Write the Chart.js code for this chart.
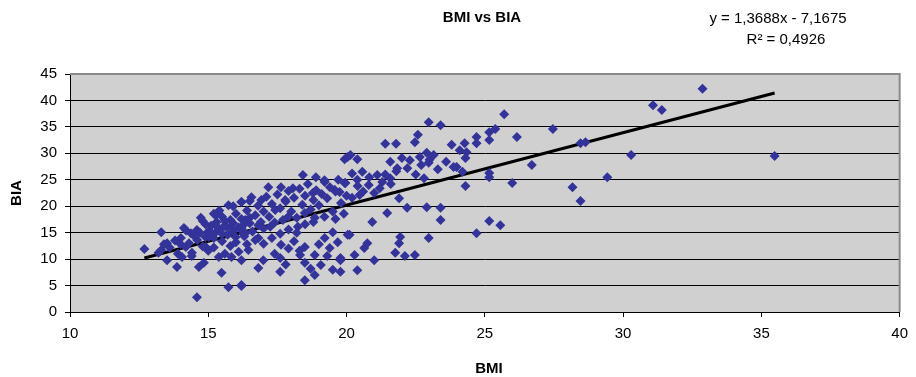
<!DOCTYPE html>
<html>
<head>
<meta charset="utf-8">
<script src="https://cdn.jsdelivr.net/npm/chart.js@4"></script>
<style>
  body { margin: 0; background: #fff; }
  #wrap { width: 916px; height: 377px; }
</style>
</head>
<body>
<div id="wrap"><canvas id="chart" width="916" height="377"></canvas></div>
<script>
        // BMI / BIA pairs
        const bmi = [
            29.43, 30.29, 31.08, 31.4, 32.87, 35.48,
            25.70, 27.46, 26.16, 25.38, 25.16, 25.16, 24.70, 24.70, 24.27, 24.09, 24.34, 24.30, 26.70, 24.19,
            25.16, 25.16, 24.30, 25.99, 28.17, 28.46, 28.46, 28.64, 25.16, 25.56, 24.70, 23.98,
            22.97, 23.40, 21.40, 21.79, 22.47, 22.58, 23.80, 20.14, 20.39, 19.93, 21.58, 22.0, 22.29, 22.65,
            22.90, 23.15, 22.97, 21.83, 23.87, 20.57, 20.82, 21.11, 21.29, 21.58, 20.39, 19.96, 22.80, 19.75,
            20.47, 21.0, 21.9, 22.19, 22.90, 23.40, 23.40, 21.47, 20.93, 20.11, 21.94, 21.90, 22.97, 20.75,
            20.64, 20.29, 21.76, 22.11, 22.47, 21.0, 19.78, 20.39, 19.78,
            20.04, 18.42, 18.89, 19.21, 17.17, 17.63, 18.06, 19.93, 19.57, 18.78, 16.56, 16.92, 17.78, 16.2,
            17.42, 18.49, 17.89, 18.85, 16.34, 16.81, 17.24, 18.24, 16.27, 19.5, 20.04, 16.81, 19.21, 17.63,
            18.49, 19.39, 19.68, 16.45, 18.32, 18.85, 16.99, 17.6, 19.78, 18.49, 19.07, 16.81, 17.6, 18.85,
            18.49, 16.2,
            12.69, 13.30, 13.51, 13.30, 13.51, 13.87, 14.05, 14.19, 14.01, 14.12, 14.37, 14.73, 14.59, 14.41,
            14.66, 14.84, 14.59, 15.02, 14.91, 15.27, 15.38, 15.48, 15.73, 16.2, 15.73, 16.2, 15.27, 15.63,
            15.99, 15.84, 16.2, 16.34,
            15.0, 15.1, 15.2, 15.3, 15.4, 15.5, 15.5, 15.6, 15.7, 15.8, 15.9, 16.0, 16.0, 16.1, 16.2, 16.3,
            16.4, 16.5, 16.6, 16.7, 16.8, 16.9, 17.0, 17.0, 17.1, 17.2, 17.3, 17.4, 17.5, 17.6, 17.7, 17.8,
            17.9, 18.0, 18.1, 18.2, 18.3, 18.4, 18.5, 18.6, 18.7, 18.8, 18.9, 19.0, 19.1, 19.2, 19.3, 19.4,
            19.5, 19.6, 19.7,
            14.6, 14.7, 14.8, 14.9, 14.5, 14.3, 14.2, 14.0, 13.8, 13.6, 13.4, 13.2, 13.9, 14.4, 15.0, 15.2,
            15.6, 15.8, 16.1, 16.4, 16.7, 17.0, 17.3, 17.6, 17.9, 18.2, 18.5, 18.8, 19.2, 19.6, 19.8, 20.2,
            20.4, 20.6, 20.8, 21.2, 21.4, 21.6, 21.8, 22.2, 22.5, 22.7, 23.0, 23.3, 23.6, 20.2, 20.0, 19.9,
            15.4, 15.9, 16.5, 14.8, 15.2,
            18.3, 18.7, 19.0, 19.3, 19.5, 18.1, 17.8, 17.4, 17.9,
            15.3, 15.6, 15.9, 16.2, 16.5, 14.9, 15.1, 15.5, 15.8, 16.3
        ];
        const bia = [
            25.5, 29.7, 39.1, 38.2, 42.2, 29.5,
            37.4, 34.6, 33.1, 34.6, 34.0, 32.5, 33.1, 31.9, 31.9, 30.6, 30.2, 29.1, 27.8, 26.5,
            26.3, 25.5, 23.8, 24.4, 23.6, 21.0, 31.9, 32.1, 17.2, 16.4, 14.9, 27.4,
            35.9, 35.3, 31.8, 31.8, 32.1, 33.5, 31.6, 29.7, 28.9, 28.9, 28.4, 29.1, 28.7, 29.3,
            30.1, 29.7, 28.2, 27.2, 27.4, 26.5, 25.5, 25.9, 24.6, 25.3, 25.0, 24.4, 25.3, 22.7,
            22.1, 22.5, 21.5, 19.7, 19.8, 19.7, 17.4, 18.7, 17.0, 14.6, 14.2, 13.0, 14.0, 13.0,
            12.1, 10.8, 11.2, 10.6, 10.8, 9.8, 10.2, 7.9, 7.6,
            29.3, 25.9, 25.5, 24.6, 23.6, 23.6, 23.4, 24.4, 23.1, 22.5, 21.7, 21.2, 21.2, 20.8,
            19.3, 18.7, 18.0, 17.8, 17.4, 16.4, 16.1, 16.1, 14.9, 15.1, 14.6, 14.0, 14.0, 12.7,
            12.3, 12.1, 13.2, 11.7, 10.8, 10.8, 9.8, 10.2, 9.8, 9.3, 8.9, 8.3, 7.6, 7.0,
            6.0, 5.1,
            11.9, 15.1, 13.0, 11.7, 9.8, 8.5, 10.4, 12.3, 14.0, 15.9, 14.9, 17.8, 15.5, 11.2,
            8.5, 9.3, 2.8, 14.2, 12.3, 18.3, 10.4, 7.4, 4.7, 4.9, 20.2, 20.8, 15.1, 16.1,
            14.2, 10.4, 9.8, 14.9,
            15.2, 16.3, 14.0, 17.0, 15.6, 13.4, 18.0, 16.4, 14.6, 17.4, 15.3, 18.6, 13.2, 16.0, 17.6, 14.3,
            19.2, 16.8, 15.2, 18.3, 20.1, 17.0, 19.0, 15.8, 21.8, 18.0, 20.4, 16.9, 22.2, 19.6, 17.4, 20.9,
            22.9, 19.0, 21.6, 17.8, 23.3, 20.3, 22.0, 24.2, 19.4, 21.2, 23.0, 20.2, 22.3, 24.9, 21.5, 23.6,
            19.0, 22.8, 25.0,
            13.6, 15.0, 12.4, 16.6, 14.3, 13.0, 15.4, 12.8, 13.5, 12.2, 12.8, 11.2, 11.0, 10.6, 11.6, 12.2,
            11.0, 12.5, 11.4, 12.8, 13.6, 12.9, 14.0, 14.8, 15.6, 15.0, 16.6, 17.0, 18.0, 17.6, 20.6, 21.6,
            23.8, 22.8, 24.0, 23.4, 26.0, 24.2, 26.6, 27.2, 26.0, 27.8, 28.8, 27.0, 28.4, 26.2, 22.0, 18.6,
            19.2, 20.0, 21.0, 17.2, 18.6,
            11.6, 8.2, 12.8, 10.6, 8.0, 13.4, 9.0, 11.0, 12.0,
            16.2, 17.2, 16.8, 15.8, 17.8, 14.2, 15.0, 14.8, 16.0, 16.6
        ];

        // linear trendline as printed on the chart
        const slope = 1.3688;
        const intercept = -7.1675;
        const xTicks = [10, 15, 20, 25, 30, 35, 40];
        const yTicks = [0, 5, 10, 15, 20, 25, 30, 35, 40, 45];

        const points = bmi.map((x, i) => ({ x: x, y: bia[i] }));
        const xMin = Math.min(...bmi);
        const xMax = Math.max(...bmi);
        const trend = [
            { x: xMin, y: slope * xMin + intercept },
            { x: xMax, y: slope * xMax + intercept }
        ];

        const FONT = '"Liberation Sans", Arial, sans-serif';

        const plotBg = {
            id: 'plotBg',
            beforeDraw(chart) {
                const { ctx, chartArea: a } = chart;
                ctx.save();
                ctx.fillStyle = '#d0d0d0';
                ctx.fillRect(a.left, a.top, a.right - a.left, a.bottom - a.top);
                ctx.restore();
            },
            afterDraw(chart) {
                const { ctx, chartArea: a } = chart;
                ctx.save();
                ctx.strokeStyle = '#8a8a8a';
                ctx.lineWidth = 2;
                ctx.beginPath();
                ctx.moveTo(a.left, a.top);
                ctx.lineTo(a.right, a.top);
                ctx.lineTo(a.right, a.bottom);
                ctx.stroke();

                ctx.fillStyle = '#000';
                ctx.textAlign = 'center';
                ctx.textBaseline = 'middle';
                ctx.font = 'bold 15px ' + FONT;
                ctx.fillText('BMI vs BIA', 482, 18);
                ctx.fillText('BMI', 489, 369);
                ctx.font = '15px ' + FONT;
                ctx.fillText('y = 1,3688x - 7,1675', 778, 19);
                ctx.fillText('R² = 0,4926', 786, 40);

                ctx.translate(17, 193);
                ctx.rotate(-Math.PI / 2);
                ctx.font = 'bold 15px ' + FONT;
                ctx.fillText('BIA', 0, 0);
                ctx.restore();
            }
        };

        new Chart(document.getElementById('chart'), {
            type: 'scatter',
            data: {
                datasets: [
                    {
                        label: 'BIA',
                        data: points,
                        pointStyle: 'rectRot',
                        pointRadius: 5,
                        pointBackgroundColor: '#333399',
                        pointBorderColor: '#333399',
                        pointBorderWidth: 0
                    },
                    {
                        label: 'Trend',
                        type: 'line',
                        data: trend,
                        borderColor: '#000',
                        borderWidth: 3,
                        pointRadius: 0,
                        fill: false
                    }
                ]
            },
            options: {
                responsive: false,
                animation: false,
                layout: { padding: { left: 0, right: 9, top: 74, bottom: 0 } },
                plugins: {
                    legend: { display: false },
                    tooltip: { enabled: false }
                },
                scales: {
                    x: {
                        type: 'linear',
                        min: 10,
                        max: 40,
                        afterFit: s => { s.height = 65; },
                        afterBuildTicks: s => { s.ticks = xTicks.map(v => ({ value: v })); },
                        ticks: { color: '#000', font: { family: FONT, size: 15 }, padding: 8 },
                        grid: { drawOnChartArea: false, drawTicks: true, tickLength: 5, color: '#000' },
                        border: { color: '#000', width: 1 }
                    },
                    y: {
                        min: 0,
                        max: 45,
                        afterFit: s => { s.width = 70; },
                        afterBuildTicks: s => { s.ticks = yTicks.map(v => ({ value: v })); },
                        ticks: { color: '#000', font: { family: FONT, size: 15 }, padding: 8 },
                        grid: {
                            color: c => (c.tick && c.tick.value === 45) ? 'rgba(0,0,0,0)' : '#000',
                            tickColor: '#000',
                            lineWidth: 1,
                            tickLength: 5
                        },
                        border: { color: '#000', width: 1 }
                    }
                }
            },
            plugins: [plotBg]
        });
</script>
</body>
</html>
